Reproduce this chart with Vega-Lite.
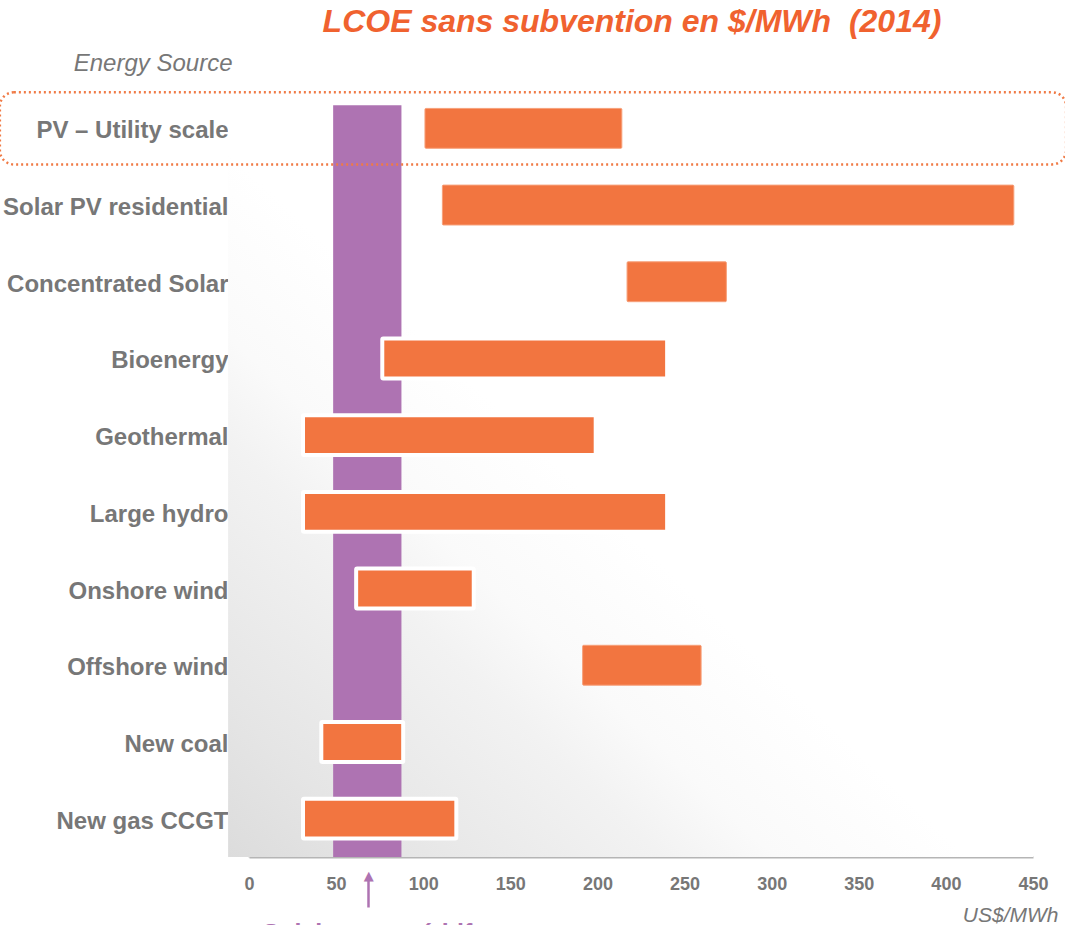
{
  "$schema": "https://vega.github.io/schema/vega-lite/v6.json",
  "autosize": {"type": "none"},
  "width": 784,
  "height": 767,
  "padding": {"left": 249, "top": 90, "right": 32, "bottom": 68},
  "background": "#ffffff",
  "config": {"view": {"stroke": null}, "font": "Liberation Sans"},
  "title": {
    "text": "LCOE sans subvention en $/MWh\u00a0 (2014)",
    "font": "Liberation Sans",
    "fontSize": 32,
    "fontWeight": "bold",
    "fontStyle": "italic",
    "color": "#f0622f",
    "anchor": "middle",
    "frame": "group",
    "dx": -9,
    "offset": 12
  },
  "datasets": {
    "lcoe": [
      {"source": "PV – Utility scale\u00a0", "lo": 101, "hi": 214},
      {"source": "Solar PV residential", "lo": 111, "hi": 439},
      {"source": "Concentrated Solar", "lo": 217, "hi": 274},
      {"source": "Bioenergy", "lo": 76.5, "hi": 240},
      {"source": "Geothermal", "lo": 31, "hi": 199},
      {"source": "Large hydro", "lo": 31, "hi": 240},
      {"source": "Onshore wind", "lo": 61.5, "hi": 129},
      {"source": "Offshore wind", "lo": 191.5, "hi": 259.5},
      {"source": "New coal", "lo": 41.5, "hi": 88.5},
      {"source": "New gas CCGT", "lo": 31, "hi": 119}
    ],
    "competitive": [
      {"lo": 48.3, "hi": 87.5, "marker": 68.5, "from": "PV – Utility scale\u00a0", "to": "New gas CCGT"}
    ],
    "highlight": [
      {"source": "PV – Utility scale\u00a0", "lo": -143, "hi": 469}
    ],
    "backdrop": [
      {"lo": -12, "hi": 450}
    ]
  },
  "resolve": {"axis": {"x": "independent", "y": "independent"}},
  "layer": [
    {
      "data": {"name": "backdrop"},
      "mark": {
        "type": "rect",
        "color": {
          "gradient": "linear",
          "x1": 0, "y1": 1, "x2": 1, "y2": 0,
          "stops": [
            {"offset": 0, "color": "#dcdcdc"},
            {"offset": 0.1, "color": "#e5e5e5"},
            {"offset": 0.27, "color": "#f2f2f2"},
            {"offset": 0.34, "color": "#fafafa"},
            {"offset": 0.46, "color": "#ffffff"}
          ]
        }
      },
      "encoding": {
        "x": {"field": "lo", "type": "quantitative", "scale": {"domain": [0, 450], "nice": false, "zero": false}, "axis": null},
        "x2": {"field": "hi"}
      }
    },
    {
      "data": {"name": "competitive"},
      "mark": {"type": "rect", "color": "#ae73b2"},
      "encoding": {
        "x": {
          "field": "lo", "type": "quantitative",
          "axis": {
            "orient": "bottom",
            "offset": 18,
            "values": [68.5],
            "domain": false,
            "grid": false,
            "ticks": true,
            "tickColor": "#ae73b2",
            "tickSize": 32,
            "tickWidth": 2.5,
            "labelExpr": "'▲'",
            "labelColor": "#ae73b2",
            "labelFont": "DejaVu Sans",
            "labelFontSize": 13,
            "labelPadding": -38,
            "title": "Solaire compétitif",
            "titleFont": "Liberation Sans",
            "titleFontSize": 25,
            "titleFontWeight": "bold",
            "titleColor": "#ae73b2",
            "titleAlign": "left",
            "titleBaseline": "alphabetic",
            "titleAnchor": "start",
            "titleX": 13,
            "titleY": 66
          }
        },
        "x2": {"field": "hi"},
        "y": {"field": "from", "type": "nominal", "bandPosition": 0.2, "axis": null},
        "y2": {"field": "to", "bandPosition": 1}
      }
    },
    {
      "data": {"name": "lcoe"},
      "mark": {"type": "bar", "color": "#f27540", "height": {"band": 0.52}, "cornerRadius": 1},
      "encoding": {
        "y": {
          "field": "source", "type": "nominal",
          "scale": {
            "domain": ["PV – Utility scale\u00a0", "Solar PV residential", "Concentrated Solar", "Bioenergy", "Geothermal", "Large hydro", "Onshore wind", "Offshore wind", "New coal", "New gas CCGT"],
            "paddingInner": 0, "paddingOuter": 0
          },
          "axis": {
            "orient": "left",
            "ticks": false,
            "domain": true,
            "domainColor": "#bdbdbd",
            "domainWidth": 2,
            "labelPadding": 21,
            "labelOffset": 3,
            "labelFont": "Liberation Sans",
            "labelFontSize": 24,
            "labelFontWeight": "bold",
            "labelColor": "#777777",
            "labelLimit": 300,
            "title": "Energy Source",
            "titleAngle": 0,
            "titleAlign": "right",
            "titleBaseline": "alphabetic",
            "titleX": -17,
            "titleY": -20,
            "titleFont": "Liberation Sans",
            "titleFontSize": 24,
            "titleFontStyle": "italic",
            "titleFontWeight": "normal",
            "titleColor": "#777777"
          }
        },
        "x": {
          "field": "lo", "type": "quantitative",
          "axis": {
            "orient": "bottom",
            "values": [0, 50, 100, 150, 200, 250, 300, 350, 400, 450],
            "grid": false,
            "ticks": false,
            "domainColor": "#b5b5b5",
            "domainWidth": 2,
            "labelPadding": 18,
            "labelFont": "Liberation Sans",
            "labelFontSize": 18,
            "labelFontWeight": "bold",
            "labelColor": "#777777",
            "labelFlush": false,
            "title": "US$/MWh",
            "titleFont": "Liberation Sans",
            "titleFontSize": 21,
            "titleFontStyle": "italic",
            "titleFontWeight": "normal",
            "titleColor": "#777777",
            "titleAlign": "right",
            "titleAnchor": "end",
            "titleBaseline": "alphabetic",
            "titleX": 809,
            "titleY": 64
          }
        },
        "x2": {"field": "hi"},
        "stroke": {"condition": {"test": "datum.lo < 90", "value": "#ffffff"}, "value": "#f7a07a"},
        "strokeWidth": {"condition": {"test": "datum.lo < 90", "value": 4}, "value": 1}
      }
    },
    {
      "data": {"name": "highlight"},
      "mark": {"type": "bar", "filled": false, "stroke": "#f07a45", "strokeWidth": 2.5, "strokeDash": [2, 3], "cornerRadius": 14, "height": {"band": 0.94}, "clip": false},
      "encoding": {
        "y": {"field": "source", "type": "nominal", "axis": null},
        "x": {"field": "lo", "type": "quantitative", "axis": null},
        "x2": {"field": "hi"}
      }
    }
  ]
}
